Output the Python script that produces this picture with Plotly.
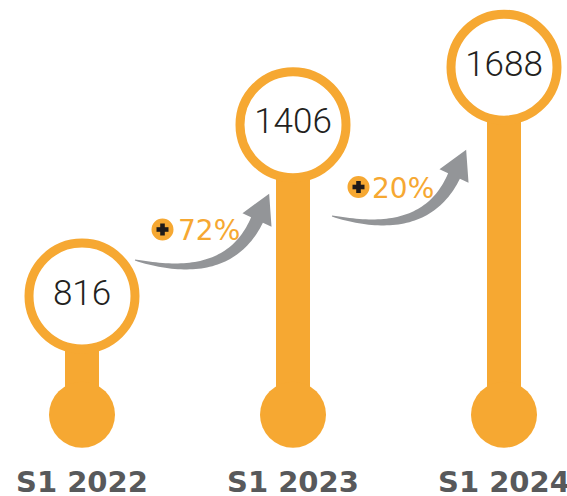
import numpy as np
import plotly.graph_objects as go

# ---------------- data ----------------
CATEGORIES = ["S1 2022", "S1 2023", "S1 2024"]
VALUES = [816, 1406, 1688]
GROWTH = ["72%", "20%"]

# ---------------- style / layout ----------------
W, H = 567, 496
ORANGE = "#F6A832"
GREY = "#939598"
DARK = "#231F20"
LABEL = "#58595B"

BASE = 560                      # root of the stems on the log axis
X_RANGE = [-82 / 211, (W - 82) / 211]
Y_RANGE = [2.636, 3.320]        # log10 range


def pp(px, py):
    """pixel -> paper coordinates"""
    return px / W, 1 - py / H


def arrow_path(ox, oy):
    P = np.array([[0, 0], [58, 14.4], [101, 5.5], [122, -40]], dtype=float)
    P += np.array([ox, oy])
    t = np.linspace(0, 1, 50)[:, None]
    B = ((1 - t) ** 3) * P[0] + 3 * ((1 - t) ** 2) * t * P[1] + 3 * (1 - t) * t ** 2 * P[2] + t ** 3 * P[3]
    D = 3 * ((1 - t) ** 2) * (P[1] - P[0]) + 6 * (1 - t) * t * (P[2] - P[1]) + 3 * t ** 2 * (P[3] - P[2])
    D = D / np.linalg.norm(D, axis=1)[:, None]
    N = np.stack([-D[:, 1], D[:, 0]], axis=1)
    w = 1 + 12 * t[:, 0] ** 0.7
    left = B + N * (w / 2)[:, None]
    right = B - N * (w / 2)[:, None]
    end, d, n = P[3], D[-1], N[-1]
    half, length = 16, 29
    pts = list(left)
    pts.append(end + n * half)
    pts.append(end + d * length)
    pts.append(end - n * half)
    pts += list(right[::-1])
    s = ""
    for i, (x, y) in enumerate(pts):
        X, Y = pp(x, y)
        s += ("M" if i == 0 else "L") + f"{X:.5f},{Y:.5f} "
    return s + "Z"


x_idx = list(range(len(CATEGORIES)))

fig = go.Figure()

# stems
sx, sy = [], []
for i, v in zip(x_idx, VALUES):
    sx += [i, i, None]
    sy += [BASE, v, None]
fig.add_trace(go.Scatter(x=sx, y=sy, mode="lines",
                         line=dict(color=ORANGE, width=34),
                         hoverinfo="skip", showlegend=False))
# bottom knobs
fig.add_trace(go.Scatter(x=x_idx, y=[BASE] * len(VALUES), mode="markers",
                         marker=dict(size=66, color=ORANGE, line=dict(width=0)),
                         hoverinfo="skip", showlegend=False))
# rings with values
fig.add_trace(go.Scatter(x=x_idx, y=VALUES, mode="markers+text",
                         marker=dict(size=106, color="white",
                                     line=dict(color=ORANGE, width=9)),
                         text=[str(v) for v in VALUES],
                         textposition="middle center",
                         textfont=dict(family="Roboto", size=35, color=DARK, weight=300),
                         hoverinfo="skip", showlegend=False))

shapes = []
annotations = []

# growth arrows + labels
ARROW_TAILS = [(135, 260), (332, 216)]
PLUS_CENTERS = [(162.5, 229.5), (358.5, 187)]
TEXT_LEFT = [175.5, 370]
for k, g in enumerate(GROWTH):
    ox, oy = ARROW_TAILS[k]
    shapes.append(dict(type="path", xref="paper", yref="paper",
                       path=arrow_path(ox, oy), fillcolor=GREY,
                       line=dict(width=0), layer="above"))
    cx, cy = PLUS_CENTERS[k]
    x0, y0 = pp(cx - 11, cy + 11)
    x1, y1 = pp(cx + 11, cy - 11)
    shapes.append(dict(type="circle", xref="paper", yref="paper",
                       x0=x0, y0=y0, x1=x1, y1=y1,
                       fillcolor=ORANGE, line=dict(width=0)))
    for (hw, hh) in [(6, 2.3), (2.3, 6)]:
        a0, b0 = pp(cx - hw, cy + hh)
        a1, b1 = pp(cx + hw, cy - hh)
        shapes.append(dict(type="rect", xref="paper", yref="paper",
                           x0=a0, y0=b0, x1=a1, y1=b1,
                           fillcolor="#1E1A1A", line=dict(width=0)))
    tx, ty = pp(TEXT_LEFT[k], cy + 1)
    annotations.append(dict(text=g, xref="paper", yref="paper", x=tx, y=ty,
                            xanchor="left", yanchor="middle", showarrow=False,
                            font=dict(family="DejaVu Sans", size=28, color=ORANGE)))

# category labels
for i, c in zip(x_idx, CATEGORIES):
    annotations.append(dict(text=c, xref="x", yref="paper", x=i, y=pp(0, 482)[1],
                            xanchor="center", yanchor="middle", showarrow=False,
                            font=dict(family="DejaVu Sans", size=29, color=LABEL,
                                      weight="bold")))

fig.update_layout(
    width=W, height=H,
    margin=dict(l=0, r=0, t=0, b=0),
    paper_bgcolor="white", plot_bgcolor="white",
    xaxis=dict(range=X_RANGE, visible=False, fixedrange=True),
    yaxis=dict(type="log", range=Y_RANGE, visible=False, fixedrange=True),
    shapes=shapes, annotations=annotations,
    hovermode=False, showlegend=False,
)

fig.write_html("out.html", config={"displayModeBar": False},
               post_script="document.body.style.margin='0px';document.body.style.overflow='hidden';")
